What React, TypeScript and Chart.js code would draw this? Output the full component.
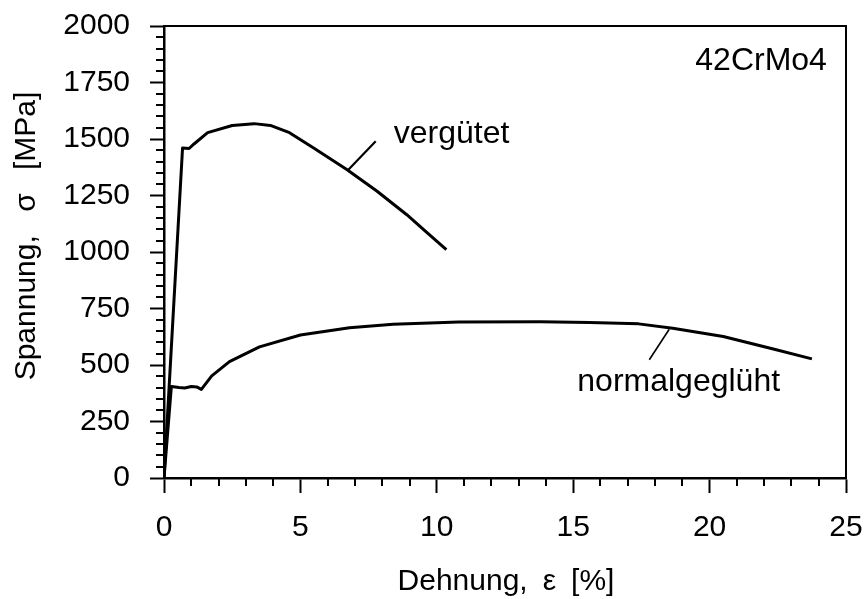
import React, { useEffect, useRef } from 'react';
import { Chart, registerables } from 'chart.js';

Chart.register(...registerables);

const FONT = "'Liberation Sans', Arial, Helvetica, sans-serif";

// Axis ticks
const xMajorTicks = [0, 5, 10, 15, 20, 25];
const yMajorTicks = [0, 250, 500, 750, 1000, 1250, 1500, 1750, 2000];
const xMinorStep = 1;
const yMinorStep = 50;

// Series: vergütet (strain %, stress MPa)
const vergStrain = [0, 0.68, 0.92, 1.1, 1.6, 2.5, 3.3, 3.9, 4.6, 5.5, 6.7, 7.8, 8.9, 9.6, 10.35];
const vergStress = [0, 1460, 1458, 1478, 1528, 1560, 1568, 1560, 1528, 1459, 1365, 1270, 1165, 1090, 1010];

// Series: normalgeglüht
const normStrain = [0, 0.27, 0.55, 0.76, 1.0, 1.2, 1.37, 1.75, 2.4, 3.5, 5.0, 6.8, 8.4, 10.8, 13.8, 15.6, 17.4, 18.65, 20.5, 22.3, 23.75];
const normStress = [0, 405, 400, 398, 405, 403, 392, 452, 515, 580, 633, 665, 680, 690, 691, 688, 682, 663, 626, 572, 527];

// Leader lines for labels (data coordinates)
const vergLeaderX = [6.74, 7.76];
const vergLeaderY = [1362, 1490];
const normLeaderX = [18.52, 17.79];
const normLeaderY = [658, 523];

// Labels
const labelTexts = ['vergütet', 'normalgeglüht', '42CrMo4'];
const labelX = [8.42, 15.15, 24.3];
const labelY = [1482, 386, 1804];
const labelAlign: CanvasTextAlign[] = ['left', 'left', 'right'];

const xTitle = 'Dehnung,\u2002ε\u2002[%]';
const yTitle = 'Spannung,\u2002 σ\u2002 [MPa]';

const toPoints = (xs: number[], ys: number[]) => xs.map((x, i) => ({ x, y: ys[i] }));

const decorPlugin = {
  id: 'decor',
  afterDraw(chart: any) {
    const { ctx, chartArea: a, scales } = chart;
    const x = scales.x;
    const y = scales.y;
    ctx.save();
    ctx.strokeStyle = '#000';
    ctx.lineWidth = 2;
    ctx.beginPath();
    ctx.moveTo(a.left, a.top);
    ctx.lineTo(a.right, a.top);
    ctx.lineTo(a.right, a.bottom);
    ctx.stroke();

    // minor ticks
    ctx.beginPath();
    for (let v = 0; v <= 25; v += xMinorStep) {
      if (xMajorTicks.includes(v)) continue;
      const px = Math.round(x.getPixelForValue(v));
      ctx.moveTo(px, a.bottom);
      ctx.lineTo(px, a.bottom + 8);
    }
    for (let v = 0; v <= 2000; v += yMinorStep) {
      if (yMajorTicks.includes(v)) continue;
      const py = Math.round(y.getPixelForValue(v));
      ctx.moveTo(a.left, py);
      ctx.lineTo(a.left - 8, py);
    }
    ctx.stroke();

    // labels
    ctx.fillStyle = '#000';
    ctx.textBaseline = 'alphabetic';
    ctx.font = `32px ${FONT}`;
    labelTexts.forEach((t, i) => {
      ctx.textAlign = labelAlign[i];
      ctx.fillText(t, x.getPixelForValue(labelX[i]), y.getPixelForValue(labelY[i]));
    });

    // axis titles
    ctx.font = `30px ${FONT}`;
    ctx.textAlign = 'center';
    ctx.fillText(xTitle, (a.left + a.right) / 2 + 1, 590);
    ctx.translate(35, 236);
    ctx.rotate(-Math.PI / 2);
    ctx.fillText(yTitle, 0, 0);
    ctx.restore();
  },
};

export default function App() {
  const ref = useRef<HTMLCanvasElement | null>(null);

  useEffect(() => {
    if (!ref.current) return;
    const line = (xs: number[], ys: number[], w: number) => ({
      data: toPoints(xs, ys),
      showLine: true,
      borderColor: '#000',
      backgroundColor: '#000',
      borderWidth: w,
      pointRadius: 0,
      tension: 0,
      borderJoinStyle: 'round' as const,
      borderCapStyle: 'butt' as const,
    });
    const chart = new Chart(ref.current, {
      type: 'scatter',
      data: {
        datasets: [
          line(vergStrain, vergStress, 3),
          line(normStrain, normStress, 3),
          line(vergLeaderX, vergLeaderY, 2.2),
          line(normLeaderX, normLeaderY, 1.6),
        ],
      },
      options: {
        animation: false,
        responsive: false,
        layout: { padding: { top: 26, right: 21, left: 0, bottom: 0 } },
        plugins: { legend: { display: false }, tooltip: { enabled: false } },
        scales: {
          x: {
            type: 'linear',
            min: 0,
            max: 25,
            afterBuildTicks: (s: any) => {
              s.ticks = xMajorTicks.map((v) => ({ value: v }));
            },
            afterFit: (s: any) => {
              s.height = 121;
              s.paddingLeft = 0;
              s.paddingRight = 0;
              s.paddingTop = 0;
              s.paddingBottom = 0;
            },
            grid: { drawOnChartArea: false, tickLength: 15, tickWidth: 2, tickColor: '#000' },
            border: { color: '#000', width: 2.5 },
            ticks: {
              color: '#000',
              font: { family: FONT, size: 30 },
              padding: 17,
              maxRotation: 0,
              autoSkip: false,
              callback: (v: any) => String(v),
            },
          },
          y: {
            type: 'linear',
            min: 0,
            max: 2000,
            afterBuildTicks: (s: any) => {
              s.ticks = yMajorTicks.map((v) => ({ value: v }));
            },
            afterFit: (s: any) => {
              s.width = 164;
              s.paddingLeft = 0;
              s.paddingRight = 0;
              s.paddingTop = 0;
              s.paddingBottom = 0;
            },
            grid: { drawOnChartArea: false, tickLength: 14, tickWidth: 2, tickColor: '#000' },
            border: { color: '#000', width: 2.5 },
            ticks: {
              color: '#000',
              font: { family: FONT, size: 30 },
              padding: 20,
              autoSkip: false,
              callback: (v: any) => String(v),
            },
          },
        },
      },
      plugins: [decorPlugin],
    });
    return () => chart.destroy();
  }, []);

  return (
    <div style={{ position: 'fixed', left: 0, top: 0, width: 867, height: 599, background: '#fff' }}>
      <canvas ref={ref} width={867} height={599} style={{ display: 'block' }} />
    </div>
  );
}
